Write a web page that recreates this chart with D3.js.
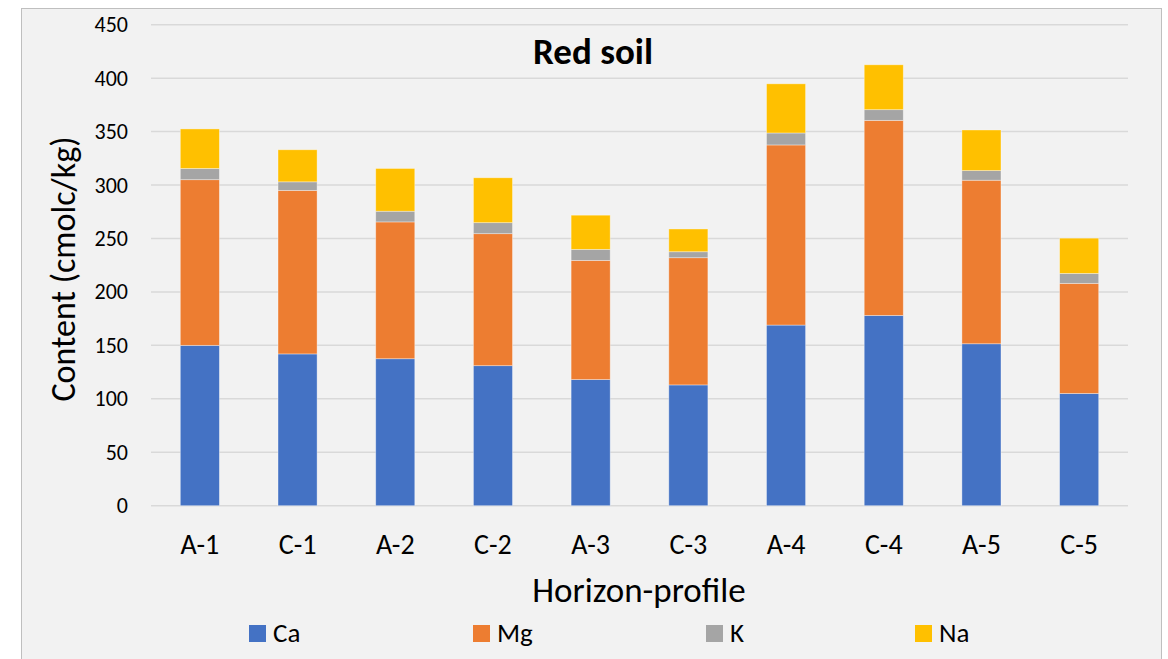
<!DOCTYPE html>
<html>
<head>
<meta charset="utf-8">
<script src="https://cdn.jsdelivr.net/npm/d3@7"></script>
<style>
  html, body { margin: 0; padding: 0; background: #ffffff; }
  svg { display: block; }
  text { font-family: Carlito, Calibri, Lato, "Open Sans", sans-serif; fill: #000; }
</style>
</head>
<body>
<svg id="chart" width="1168" height="659"></svg>
<script>
// Exchangeable cations per horizon-profile (cmolc/kg)
const categories = ["A-1", "C-1", "A-2", "C-2", "A-3", "C-3", "A-4", "C-4", "A-5", "C-5"];
const seriesNames = ["Ca", "Mg", "K", "Na"];
const ca = [150, 142, 137.5, 131, 118, 113, 169, 178, 151.5, 105];
const mg = [155, 153, 128, 123.5, 111.5, 119, 168.5, 182.5, 153, 103];
const k  = [10.5, 8, 10, 10.3, 10.3, 5.6, 11.2, 10, 9, 9.3];
const na = [37, 30, 40, 42, 32, 21.3, 46, 42, 38, 33];
const yTicks = [0, 50, 100, 150, 200, 250, 300, 350, 400, 450];
const colors = ["#4472C4", "#ED7D31", "#A5A5A5", "#FFC000"];

const rows = categories.map((c, i) => ({ cat: c, Ca: ca[i], Mg: mg[i], K: k[i], Na: na[i] }));
const stacked = d3.stack().keys(seriesNames)(rows);

const svg = d3.select("#chart");
const FONT = "Carlito, Calibri, Lato, sans-serif";

// chart area background and frame
svg.append("rect")
  .attr("x", 21.5).attr("y", 8.5)
  .attr("width", 1140).attr("height", 660)
  .attr("fill", "#f2f2f2")
  .attr("stroke", "#bfbfbf").attr("stroke-width", 1);

const plot = { left: 151, right: 1128, top: 24.7, bottom: 505.7 };

const x = d3.scaleBand()
  .domain(categories)
  .range([plot.left, plot.right])
  .paddingInner(0.6).paddingOuter(0.3);

const y = d3.scaleLinear().domain([0, 450]).range([plot.bottom, plot.top]);

// horizontal gridlines
svg.append("g")
  .selectAll("line")
  .data(yTicks)
  .join("line")
  .attr("x1", plot.left).attr("x2", plot.right)
  .attr("y1", d => y(d)).attr("y2", d => y(d))
  .attr("stroke", "#d9d9d9").attr("stroke-width", 1.5);

// y tick labels
const yAxis = d3.axisLeft(y).tickValues(yTicks).tickSize(0).tickPadding(0);
const gy = svg.append("g").attr("transform", `translate(128,0)`).call(yAxis);
gy.select(".domain").remove();
gy.selectAll("text")
  .attr("font-size", 22)
  .attr("font-family", FONT)
  .attr("fill", "#000");

// stacked bars
svg.append("g")
  .selectAll("g")
  .data(stacked)
  .join("g")
  .attr("fill", (d, i) => colors[i])
  .selectAll("rect")
  .data(d => d)
  .join("rect")
  .attr("x", d => x(d.data.cat))
  .attr("width", x.bandwidth())
  .attr("y", d => y(d[1]))
  .attr("height", d => y(d[0]) - y(d[1]))
  .attr("stroke", "rgba(255,255,255,0.45)")
  .attr("stroke-width", 0.8);

// x category labels
const xAxis = d3.axisBottom(x).tickSize(0).tickPadding(0);
const gx = svg.append("g").attr("transform", `translate(0,534)`).call(xAxis);
gx.select(".domain").remove();
gx.selectAll("text")
  .attr("font-size", 28)
  .attr("font-family", FONT)
  .attr("fill", "#000");

// title
svg.append("text")
  .attr("x", 593).attr("y", 64)
  .attr("text-anchor", "middle")
  .attr("font-size", 37).attr("font-weight", "bold")
  .text("Red soil");

// axis titles
svg.append("text")
  .attr("x", 639).attr("y", 602)
  .attr("text-anchor", "middle")
  .attr("font-size", 35)
  .text("Horizon-profile");

svg.append("text")
  .attr("transform", "translate(75,269) rotate(-90)")
  .attr("text-anchor", "middle")
  .attr("font-size", 34)
  .text("Content (cmolc/kg)");

// legend
const legendX = [249, 473, 706, 915];
const legend = svg.append("g")
  .selectAll("g")
  .data(seriesNames)
  .join("g")
  .attr("transform", (d, i) => `translate(${legendX[i]},625)`);
legend.append("rect")
  .attr("width", 17).attr("height", 17)
  .attr("fill", (d, i) => colors[i]);
legend.append("text")
  .attr("x", 24).attr("y", 17)
  .attr("font-size", 27)
  .text(d => d);
</script>
</body>
</html>
